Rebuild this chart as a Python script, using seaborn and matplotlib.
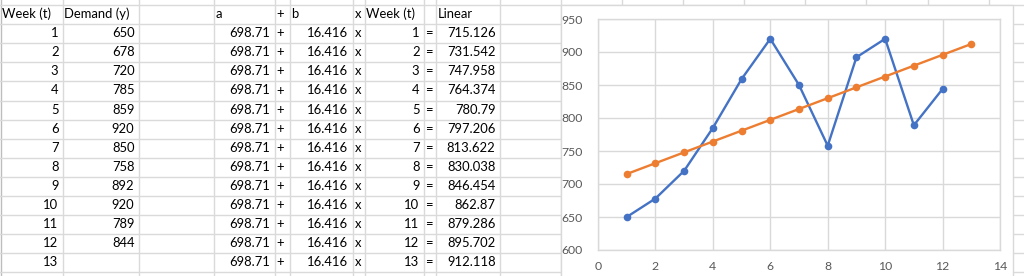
import matplotlib
matplotlib.use("Agg")
import matplotlib.pyplot as plt
from matplotlib.patches import Rectangle
import seaborn as sns
import pandas as pd

# ---- data ----
weeks = list(range(1, 14))
demand = [650, 678, 720, 785, 859, 920, 850, 758, 892, 920, 789, 844]
a_coef = 698.71
b_coef = 16.416
linear = [715.126, 731.542, 747.958, 764.374, 780.79, 797.206, 813.622,
          830.038, 846.454, 862.87, 879.286, 895.702, 912.118]
headers = ["Week (t)", "Demand (y)", "", "a", "+", "b", "x", "Week (t)", "", "Linear"]
x_ticks = [0, 2, 4, 6, 8, 10, 12, 14]
y_ticks = [600, 650, 700, 750, 800, 850, 900, 950]

FONT = ["Lato", "DejaVu Sans"]
plt.rcParams["font.family"] = FONT

W, H = 1024, 276
fig = plt.figure(figsize=(W / 100, H / 100), dpi=100)
bg = fig.add_axes([0, 0, 1, 1])
bg.set_xlim(0, W)
bg.set_ylim(H, 0)
bg.axis("off")

# spreadsheet grid
col_edges = [0, 62, 138, 213, 274, 289, 352, 364, 423, 435, 499, 560, 621, 682, 743, 804, 865, 927, 988]
row_top = 5.0
row_h = 19.1
row_edges = [row_top + row_h * k for k in range(15)]
grid_c = "#dadada"
for x in col_edges[1:]:
    bg.plot([x + 0.5, x + 0.5], [0, H], color=grid_c, lw=1, zorder=1)
bg.plot([0.5, 0.5], [0, H], color="#bdbdbd", lw=1, zorder=1)
for y in row_edges:
    bg.plot([0, W], [y, y], color=grid_c, lw=1, zorder=1)

# table text
fs = 9.4
tc = "#000000"
def txt_left(col, row, s):
    bg.text(col_edges[col] + 2.5, row_edges[row + 1] - 6.0, s, ha="left", va="baseline",
            fontsize=fs, color=tc, zorder=3)
def txt_right(col, row, s):
    bg.text(col_edges[col + 1] - 3.5, row_edges[row + 1] - 6.0, s, ha="right", va="baseline",
            fontsize=fs, color=tc, zorder=3)

for c, h in enumerate(headers):
    if h:
        txt_left(c, 0, h)

for i, w in enumerate(weeks):
    r = i + 1
    txt_right(0, r, str(w))
    if i < len(demand):
        txt_right(1, r, str(demand[i]))
    txt_right(3, r, f"{a_coef:g}")
    txt_left(4, r, "+")
    txt_right(5, r, f"{b_coef:g}")
    txt_left(6, r, "x")
    txt_right(7, r, str(w))
    txt_left(8, r, "=")
    txt_right(9, r, f"{linear[i]:g}")

# chart container
bg.add_patch(Rectangle((561, 5), 1013 - 561, 290, facecolor="white",
                       edgecolor="#d9d9d9", lw=1, zorder=4))

# chart plot area
L, R, T, B = 598, 1000, 19, 250
ax = fig.add_axes([L / W, (H - B) / H, (R - L) / W, (B - T) / H])
ax.set_zorder(5)
ax.set_facecolor("white")

df_d = pd.DataFrame({"week": weeks[:len(demand)], "value": demand})
df_l = pd.DataFrame({"week": weeks, "value": linear})
sns.lineplot(data=df_d, x="week", y="value", ax=ax, color="#4472C4", marker="o",
             markersize=5.5, markeredgewidth=0, linewidth=1.7, zorder=3)
sns.lineplot(data=df_l, x="week", y="value", ax=ax, color="#ED7D31", marker="o",
             markersize=5.5, markeredgewidth=0, linewidth=1.7, zorder=3)

ax.set_xlim(0, 14)
ax.set_ylim(600, 950)
ax.set_xticks(x_ticks)
ax.set_yticks(y_ticks)
ax.set_xlabel("")
ax.set_ylabel("")
ax.grid(True, color="#d9d9d9", lw=1)
ax.set_axisbelow(True)
for s in ax.spines.values():
    s.set_color("#d9d9d9")
    s.set_linewidth(1)
ax.tick_params(length=0, labelsize=8.8, labelcolor="#595959")
ax.tick_params(axis="x", pad=8)
ax.tick_params(axis="y", pad=11)

fig.savefig("out.png", dpi=100)
